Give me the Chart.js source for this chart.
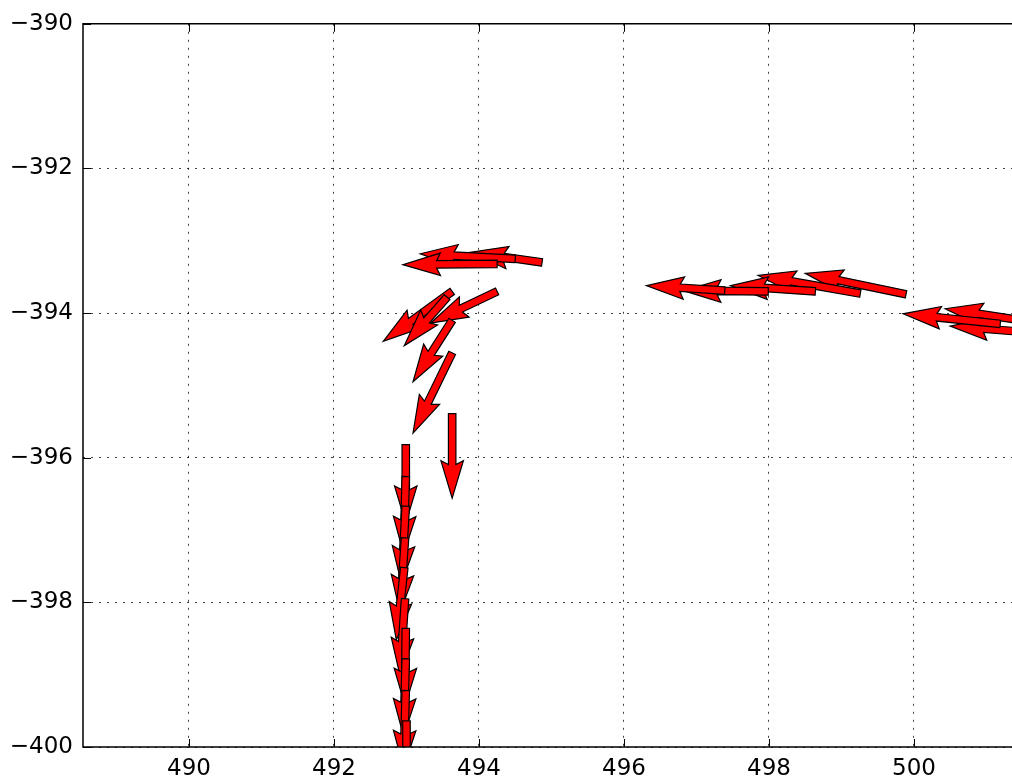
<!DOCTYPE html>
<html>
<head>
<meta charset="utf-8">
<script src="https://cdn.jsdelivr.net/npm/chart.js@4.4.0/dist/chart.umd.min.js"></script>
<style>
  html, body { margin: 0; padding: 0; background: #fff; overflow: hidden; }
</style>
</head>
<body>
<canvas id="quiverChart" width="1012" height="784"></canvas>
<script>
const xTicks = [490, 492, 494, 496, 498, 500];
const yTicks = [-400, -398, -396, -394, -392, -390];

// arrow tails (data units)
const tailX = [501.88, 501.81, 501.19, 499.89, 499.26, 498.64, 497.99, 497.39,
               494.87, 494.50, 494.25,
               494.25, 493.63, 493.56, 493.63, 493.63, 493.63,
               492.99, 492.99, 492.99, 492.98, 492.97, 492.98, 492.99, 492.99, 492.99, 493.00];
const tailY = [-394.29, -394.15, -394.15, -393.74, -393.73, -393.70, -393.70, -393.69,
               -393.30, -393.25, -393.32,
               -393.70, -393.70, -393.78, -394.10, -394.55, -395.39,
               -395.82, -396.26, -396.67, -397.11, -397.52, -397.95, -398.36, -398.78, -399.22, -399.64];
// arrow vectors (data units)
const vecU = [-1.38, -1.38, -1.34, -1.39, -1.41, -1.17, -1.17, -1.08,
              -0.99, -1.31, -1.30,
              -0.92, -0.95, -0.59, -0.54, -0.54, 0.00,
              0.00, -0.03, -0.06, -0.07, -0.11, -0.07, -0.01, -0.03, -0.03, 0.00];
const vecV = [0.11, 0.21, 0.14, 0.29, 0.25, 0.08, 0.01, 0.07,
              0.14, 0.07, -0.01,
              -0.44, -0.69, -0.67, -0.85, -1.11, -1.17,
              -1.09, -1.07, -1.07, -1.03, -1.00, -1.06, -1.07, -1.07, -1.07, -1.07];

// matplotlib quiver proportions: head 3x shaft wide, 5x long, 4.5x axis length
const shaftW = 7.5, headW = 22.5, headL = 37.5, headAxisL = 33.75;

const quiverPlugin = {
    id: 'quiver',
    afterDatasetsDraw(chart) {
        const {ctx, chartArea: a, scales: {x, y}} = chart;
        ctx.save();
        ctx.beginPath();
        ctx.rect(a.left, a.top, a.right - a.left, a.bottom - a.top);
        ctx.clip();
        for (let i = 0; i < tailX.length; i++) {
            const x0 = x.getPixelForValue(tailX[i]);
            const y0 = y.getPixelForValue(tailY[i]);
            const x1 = x.getPixelForValue(tailX[i] + vecU[i]);
            const y1 = y.getPixelForValue(tailY[i] + vecV[i]);
            const len = Math.hypot(x1 - x0, y1 - y0);
            ctx.save();
            ctx.translate(x0, y0);
            ctx.rotate(Math.atan2(y1 - y0, x1 - x0));
            ctx.beginPath();
            ctx.moveTo(0, -shaftW / 2);
            ctx.lineTo(len - headAxisL, -shaftW / 2);
            ctx.lineTo(len - headL, -headW / 2);
            ctx.lineTo(len, 0);
            ctx.lineTo(len - headL, headW / 2);
            ctx.lineTo(len - headAxisL, shaftW / 2);
            ctx.lineTo(0, shaftW / 2);
            ctx.closePath();
            ctx.fillStyle = '#ff0000';
            ctx.fill();
            ctx.lineWidth = 1.2;
            ctx.strokeStyle = '#000';
            ctx.lineJoin = 'miter';
            ctx.stroke();
            ctx.restore();
        }
        ctx.restore();
    },
    afterDraw(chart) {
        // frame + inward ticks
        const {ctx, chartArea: a, scales: {x, y}} = chart;
        ctx.save();
        ctx.strokeStyle = '#000';
        ctx.lineWidth = 1.5;
        ctx.beginPath();
        ctx.moveTo(a.right + 5, a.top);
        ctx.lineTo(a.left, a.top);
        ctx.lineTo(a.left, a.bottom);
        ctx.lineTo(a.right + 5, a.bottom);
        ctx.stroke();
        ctx.lineWidth = 1;
        ctx.beginPath();
        xTicks.forEach(v => {
            const px = Math.round(x.getPixelForValue(v)) + 0.5;
            ctx.moveTo(px, a.bottom); ctx.lineTo(px, a.bottom - 8);
            ctx.moveTo(px, a.top); ctx.lineTo(px, a.top + 8);
        });
        yTicks.forEach(v => {
            const py = Math.round(y.getPixelForValue(v)) + 0.5;
            ctx.moveTo(a.left, py); ctx.lineTo(a.left + 8, py);
        });
        ctx.stroke();
        ctx.restore();
    }
};

const tickFont = {family: 'DejaVu Sans', size: 23};
const minusLabel = v => String(v).replace('-', '\u2212');

const ctx = document.getElementById('quiverChart').getContext('2d');
const myChart = new Chart(ctx, {
    type: 'scatter',
    data: {
        datasets: [{
            data: tailX.map((v, i) => ({x: v, y: tailY[i]})),
            pointRadius: 0
        }]
    },
    options: {
        responsive: false,
        animation: false,
        layout: {padding: {top: 21, right: 0, left: 0, bottom: 0}},
        plugins: {legend: {display: false}, tooltip: {enabled: false}},
        scales: {
            x: {
                type: 'linear',
                min: 488.538,
                max: 501.352,
                afterBuildTicks: s => { s.ticks = xTicks.map(v => ({value: v})); },
                afterFit: s => { s.height = 37; },
                grid: {color: 'rgba(0,0,0,0.75)', lineWidth: 1, drawTicks: false},
                border: {display: false, dash: [2, 6]},
                ticks: {font: tickFont, color: '#000', padding: 8, maxRotation: 0, callback: minusLabel}
            },
            y: {
                type: 'linear',
                min: -400,
                max: -390,
                afterBuildTicks: s => { s.ticks = yTicks.map(v => ({value: v})); },
                afterFit: s => { s.width = 83; },
                grid: {color: 'rgba(0,0,0,0.75)', lineWidth: 1, drawTicks: false},
                border: {display: false, dash: [2, 6]},
                ticks: {font: tickFont, color: '#000', padding: 10, callback: minusLabel}
            }
        }
    },
    plugins: [quiverPlugin]
});
</script>
</body>
</html>
